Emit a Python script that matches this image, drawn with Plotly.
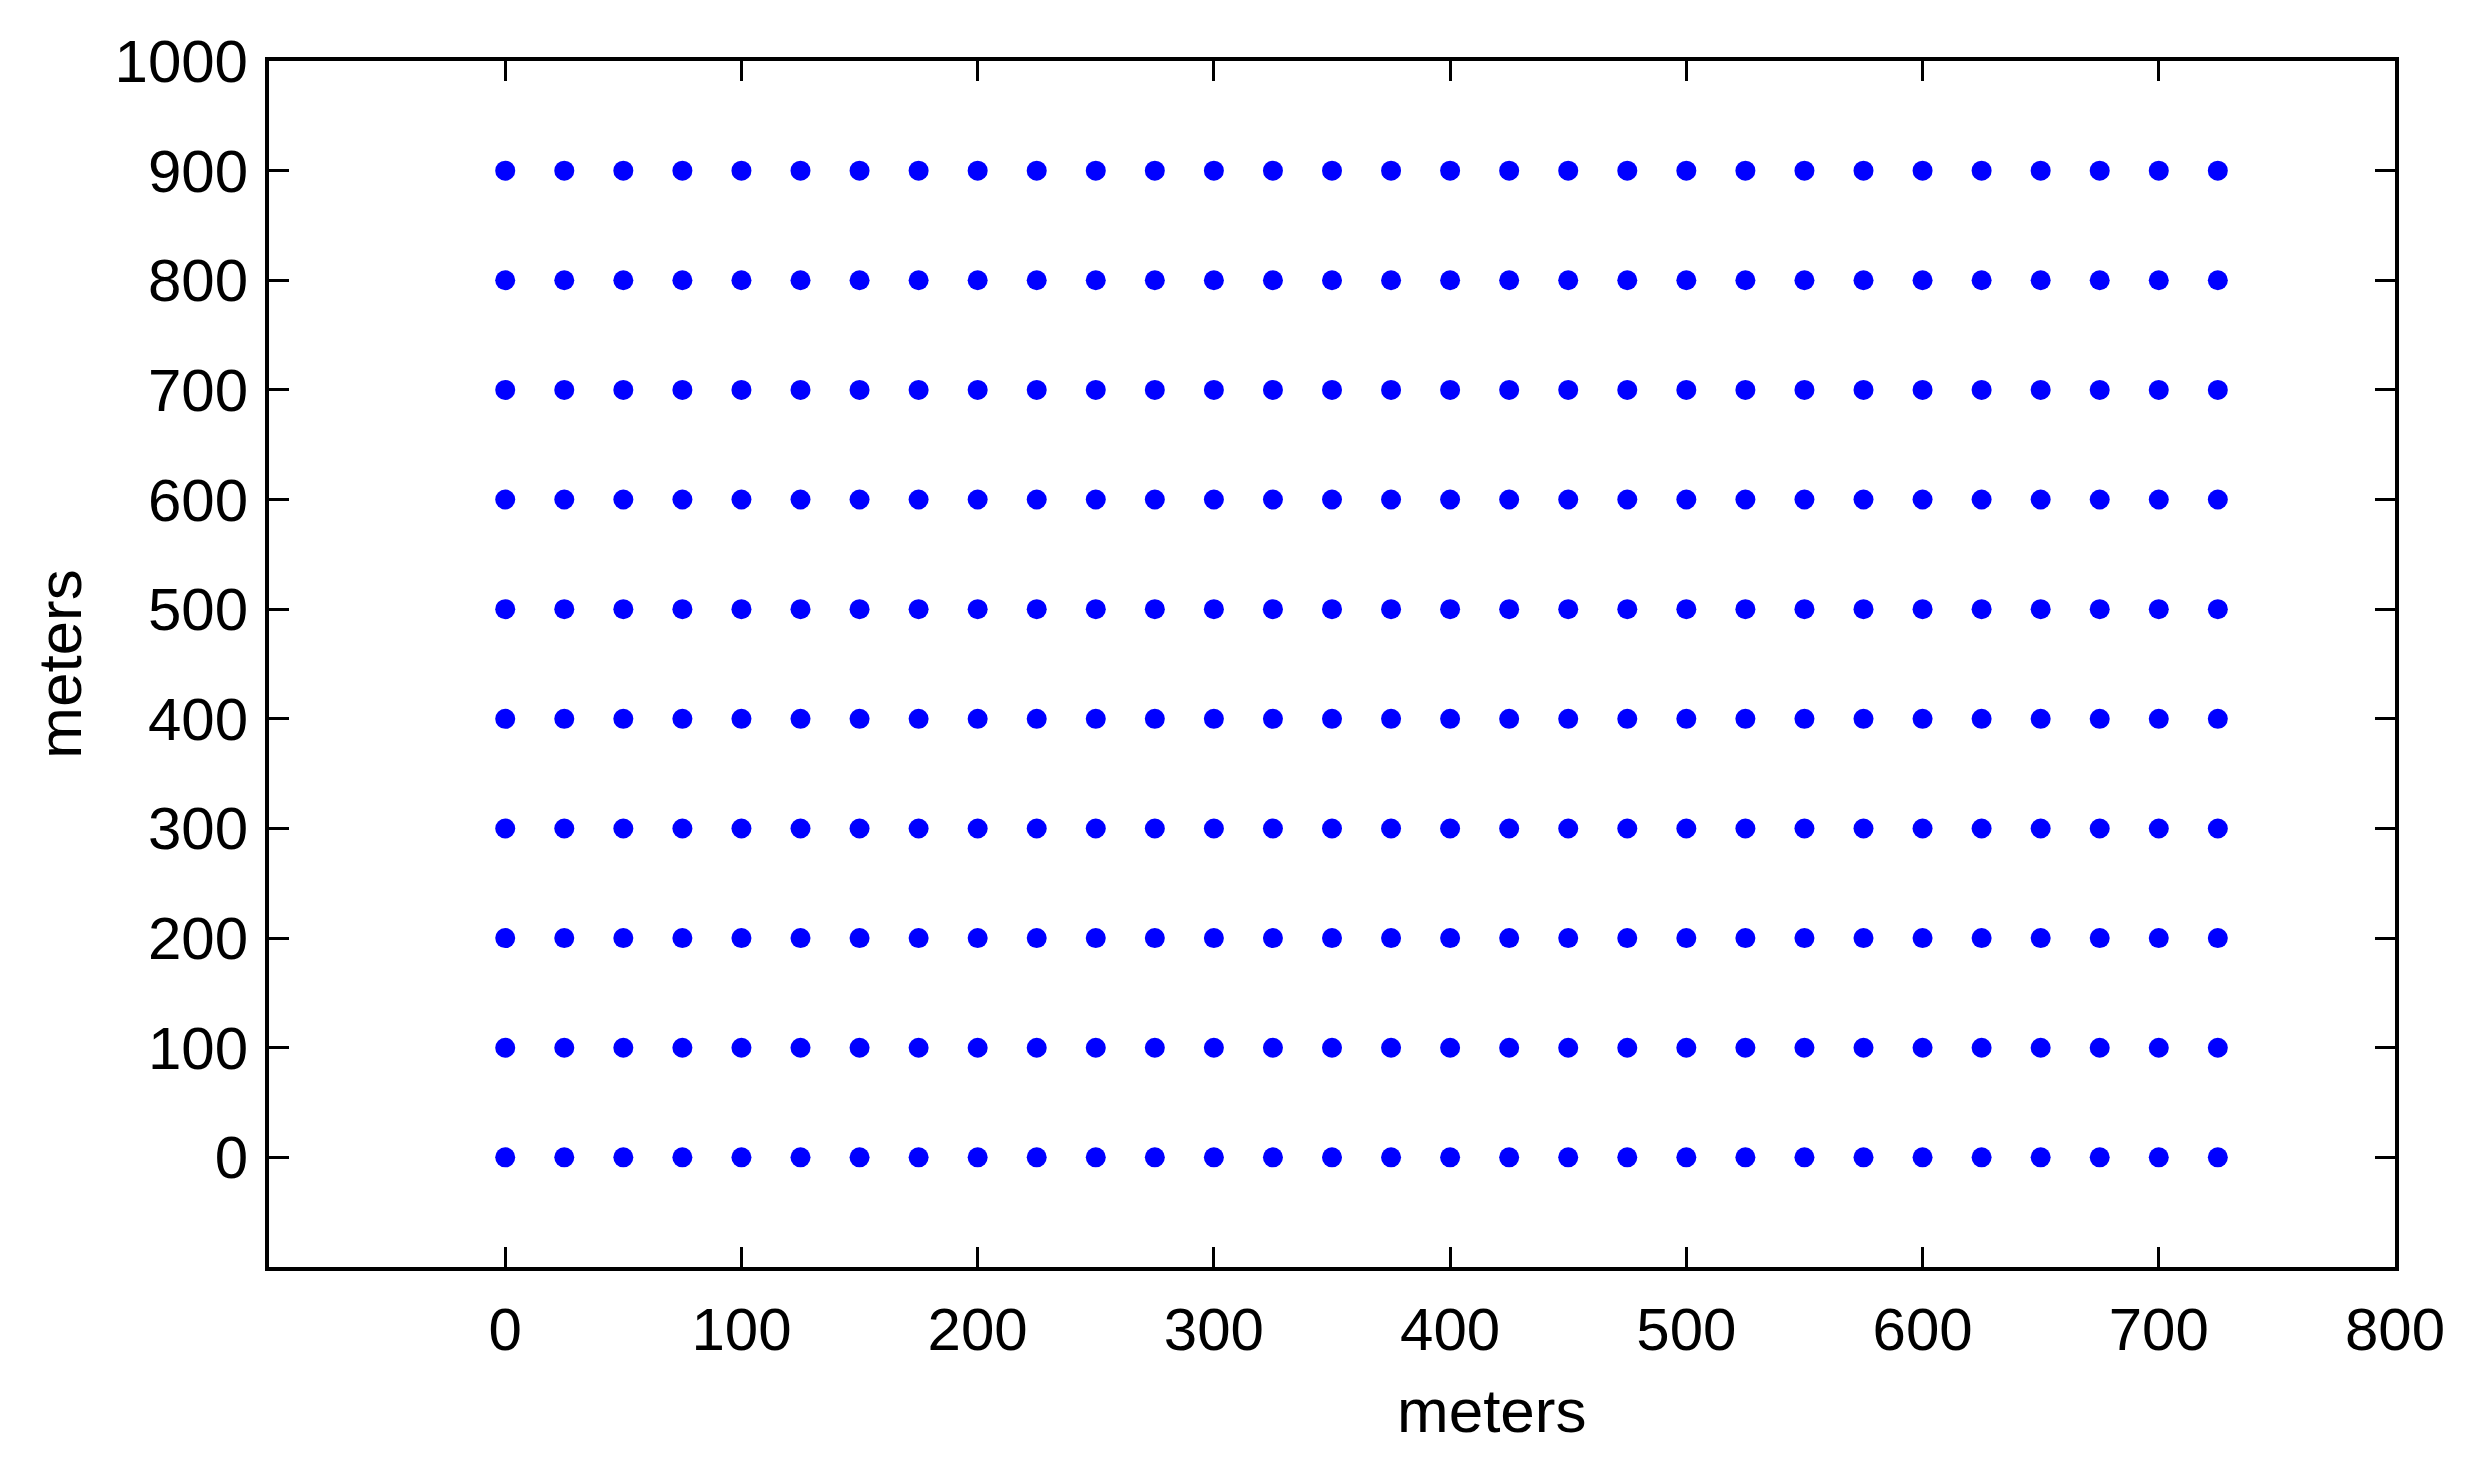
import plotly.graph_objects as go

# sensor grid positions (meters)
x_positions = [0, 25, 50, 75, 100, 125, 150, 175, 200, 225,
               250, 275, 300, 325, 350, 375, 400, 425, 450, 475,
               500, 525, 550, 575, 600, 625, 650, 675, 700, 725]
y_rows = [0, 100, 200, 300, 400, 500, 600, 700, 800, 900]

x_ticks = [0, 100, 200, 300, 400, 500, 600, 700, 800]
y_ticks = [0, 100, 200, 300, 400, 500, 600, 700, 800, 900, 1000]

# expand to full grid
xs = [x for y in y_rows for x in x_positions]
ys = [y for y in y_rows for x in x_positions]

fig = go.Figure()
fig.add_trace(go.Scatter(
    x=xs, y=ys, mode='markers',
    marker=dict(color='#0000ff', size=20, line=dict(width=0)),
    showlegend=False
))

family = 'Arial, Liberation Sans, sans-serif'
font = dict(family=family, size=60, color='black')

axis_common = dict(
    showgrid=False, zeroline=False,
    showline=True, linecolor='black', linewidth=4, mirror='ticks',
    ticks='inside', ticklen=20, tickwidth=3, tickcolor='black',
    tickfont=font,
)

fig.update_xaxes(range=[-100, 800], tickvals=x_ticks, ticklabelstandoff=7,
                 **axis_common)
fig.update_yaxes(range=[-100, 1000], tickvals=y_ticks, ticklabelstandoff=5,
                 title=dict(text='meters', font=dict(family=family, size=62, color='black'), standoff=14),
                 **axis_common)

# x label sits right of centre in the original
fig.add_annotation(text='meters', xref='paper', yref='paper',
                   x=0.575, y=-0.119, xanchor='center', yanchor='middle',
                   showarrow=False, font=dict(family=family, size=62, color='black'))

fig.update_layout(
    width=2492, height=1465,
    margin=dict(l=261, r=105, t=53, b=206),
    plot_bgcolor='white', paper_bgcolor='white',
)

fig.write_html("out.html")
